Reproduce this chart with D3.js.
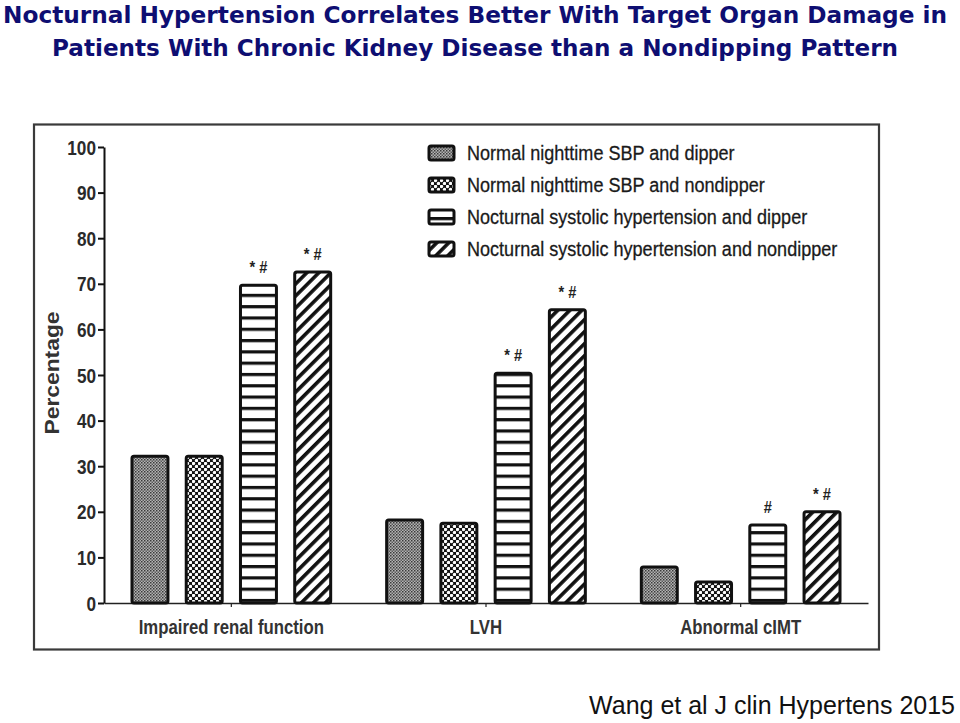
<!DOCTYPE html>
<html>
<head>
<meta charset="utf-8">
<script src="https://cdn.jsdelivr.net/npm/d3@7"></script>
<style>
  html, body { margin: 0; padding: 0; background: #fff; }
  svg { display: block; }
</style>
</head>
<body>
<svg id="chart" width="960" height="723"></svg>
<script>
// ---- DATA ----
const titleLines = [
  "Nocturnal Hypertension Correlates Better With Target Organ Damage in",
  "Patients With Chronic Kidney Disease than a Nondipping Pattern"
];
const citation = "Wang et al J clin Hypertens 2015";
const yLabel = "Percentage";
const categories = ["Impaired renal function", "LVH", "Abnormal cIMT"];
const seriesNames = [
  "Normal nighttime SBP and dipper",
  "Normal nighttime SBP and nondipper",
  "Nocturnal systolic hypertension and dipper",
  "Nocturnal systolic hypertension and nondipper"
];
const normalDipper      = [32.2, 18.2, 7.9];
const normalNondipper   = [32.2, 17.5, 4.6];
const nocturnalDipper   = [69.7, 50.4, 17.1];
const nocturnalNondipper= [72.6, 64.3, 20.0];
const annotDipper    = ["* #", "* #", "#"];
const annotNondipper = ["* #", "* #", "* #"];
const yTicks = [0, 10, 20, 30, 40, 50, 60, 70, 80, 90, 100];

const seriesValues = [normalDipper, normalNondipper, nocturnalDipper, nocturnalNondipper];
const seriesAnnots = [null, null, annotDipper, annotNondipper];

// ---- DRAW ----
const svg = d3.select("#chart");
const defs = svg.append("defs");

// pattern 0: fine gray stipple
const p0 = defs.append("pattern").attr("id", "pat0").attr("patternUnits", "userSpaceOnUse")
  .attr("width", 3).attr("height", 3);
p0.append("rect").attr("width", 3).attr("height", 3).attr("fill", "#b4b4b4");
p0.append("rect").attr("x", 0).attr("y", 0).attr("width", 1.5).attr("height", 1.5).attr("fill", "#3a3a3a");
p0.append("rect").attr("x", 1.5).attr("y", 1.5).attr("width", 1.5).attr("height", 1.5).attr("fill", "#5a5a5a");

// pattern 1: white dots on black
const p1 = defs.append("pattern").attr("id", "pat1").attr("patternUnits", "userSpaceOnUse")
  .attr("width", 6).attr("height", 6);
p1.append("rect").attr("width", 6).attr("height", 6).attr("fill", "#111");
p1.append("circle").attr("cx", 1.5).attr("cy", 1.5).attr("r", 1.7).attr("fill", "#fff");
p1.append("circle").attr("cx", 4.5).attr("cy", 4.5).attr("r", 1.7).attr("fill", "#fff");

// pattern 2: horizontal stripes
const p2 = defs.append("pattern").attr("id", "pat2").attr("patternUnits", "userSpaceOnUse")
  .attr("width", 11).attr("height", 11.3);
p2.append("rect").attr("width", 11).attr("height", 11.3).attr("fill", "#fff");
p2.append("rect").attr("x", 0).attr("y", 0).attr("width", 11).attr("height", 3.2).attr("fill", "#111");

// pattern 3: diagonal "/" stripes
const p3 = defs.append("pattern").attr("id", "pat3").attr("patternUnits", "userSpaceOnUse")
  .attr("width", 8.5).attr("height", 8.5).attr("patternTransform", "rotate(45)");
p3.append("rect").attr("width", 8.5).attr("height", 8.5).attr("fill", "#fff");
p3.append("rect").attr("x", 0).attr("y", 0).attr("width", 3.6).attr("height", 8.5).attr("fill", "#111");

const fills = ["url(#pat0)", "url(#pat1)", "url(#pat2)", "url(#pat3)"];

// Title
const titleColor = "#0e0e72";
svg.append("text").attr("x", 3).attr("y", 23)
  .attr("font-family", "DejaVu Sans, Verdana, sans-serif").attr("font-weight", "bold")
  .attr("font-size", 23).attr("fill", titleColor)
  .attr("textLength", 944).attr("lengthAdjust", "spacingAndGlyphs")
  .text(titleLines[0]);
svg.append("text").attr("x", 52).attr("y", 56)
  .attr("font-family", "DejaVu Sans, Verdana, sans-serif").attr("font-weight", "bold")
  .attr("font-size", 23).attr("fill", titleColor)
  .attr("textLength", 846).attr("lengthAdjust", "spacingAndGlyphs")
  .text(titleLines[1]);

// Frame
svg.append("rect").attr("x", 34).attr("y", 124.5).attr("width", 845).attr("height", 525)
  .attr("fill", "#fff").attr("stroke", "#3a3a3a").attr("stroke-width", 2.2);

// Scales
const y = d3.scaleLinear().domain([0, 100]).range([603, 147]);
const x0 = d3.scaleBand().domain(categories).range([104, 868]).padding(0);
const x1 = d3.scaleBand().domain(d3.range(seriesNames.length)).range([0, x0.bandwidth()])
  .paddingInner(0.337).paddingOuter(0.516);

const axisFont = "Liberation Sans, Arial, sans-serif";
const condense = 0.86;

// Y axis
const yAxis = svg.append("g").attr("transform", "translate(104,0)")
  .call(d3.axisLeft(y).tickValues(yTicks).tickSize(6).tickSizeOuter(0).tickPadding(2));
yAxis.select(".domain").attr("stroke", "#111").attr("stroke-width", 2);
yAxis.selectAll(".tick line").attr("stroke", "#111").attr("stroke-width", 2);
yAxis.selectAll(".tick text").each(function() {
  const t = d3.select(this);
  const xx = +t.attr("x");
  t.attr("x", null).attr("dy", null)
   .attr("transform", `translate(${xx},7) scale(${condense},1)`)
   .attr("font-family", axisFont).attr("font-weight", "bold")
   .attr("font-size", 20).attr("fill", "#2a2a2a");
});

// X axis
const xAxis = svg.append("g").attr("transform", "translate(0,603)")
  .call(d3.axisBottom(x0).tickSize(4).tickSizeOuter(0).tickFormat(""));
xAxis.select(".domain").attr("stroke", "#222").attr("stroke-width", 1.6);
xAxis.selectAll(".tick line").attr("stroke", "#222").attr("stroke-width", 1.2);
svg.append("g").selectAll("text").data(categories).join("text")
  .attr("transform", d => `translate(${x0(d) + x0.bandwidth() / 2},634) scale(${condense},1)`)
  .attr("text-anchor", "middle")
  .attr("font-family", axisFont).attr("font-weight", "bold").attr("font-size", 19.5)
  .attr("fill", "#333").text(d => d);

// Y label
svg.append("text")
  .attr("transform", "translate(59,373) rotate(-90)")
  .attr("text-anchor", "middle")
  .attr("font-family", axisFont).attr("font-weight", "bold").attr("font-size", 20)
  .attr("textLength", 123).attr("lengthAdjust", "spacingAndGlyphs")
  .attr("fill", "#333").text(yLabel);

// Bars
const barData = [];
seriesValues.forEach((vals, s) => {
  vals.forEach((v, c) => barData.push({ s, c, v, annot: seriesAnnots[s] ? seriesAnnots[s][c] : null }));
});
svg.append("g").selectAll("rect").data(barData).join("rect")
  .attr("x", d => x0(categories[d.c]) + x1(d.s))
  .attr("y", d => y(d.v))
  .attr("width", x1.bandwidth())
  .attr("height", d => y(0) - y(d.v))
  .attr("rx", 2)
  .attr("fill", d => fills[d.s])
  .attr("stroke", "#111").attr("stroke-width", 3);

// Annotations
svg.append("g").selectAll("text").data(barData.filter(d => d.annot)).join("text")
  .attr("transform", d => `translate(${x0(categories[d.c]) + x1(d.s) + x1.bandwidth() / 2},${y(d.v) - 12}) scale(${condense},1)`)
  .attr("text-anchor", "middle")
  .attr("font-family", axisFont).attr("font-weight", "bold").attr("font-size", 17)
  .attr("fill", "#222").text(d => d.annot);

// Legend
const legend = svg.append("g").selectAll("g").data(seriesNames).join("g")
  .attr("transform", (d, i) => `translate(428,${153 + i * 32})`);
legend.append("rect").attr("x", 1).attr("y", -7).attr("width", 25).attr("height", 14)
  .attr("rx", 2).attr("fill", (d, i) => fills[i]).attr("stroke", "#111").attr("stroke-width", 3);
legend.append("text")
  .attr("transform", `translate(39,7) scale(0.86,1)`)
  .attr("font-family", axisFont).attr("font-size", 21).attr("fill", "#1a1a1a")
  .attr("stroke", "#1a1a1a").attr("stroke-width", 0.3)
  .text(d => d);

// Citation
svg.append("text").attr("x", 955).attr("y", 714)
  .attr("text-anchor", "end")
  .attr("font-family", "Liberation Sans, Arial, sans-serif").attr("font-size", 25)
  .attr("fill", "#111")
  .text(citation);
</script>
</body>
</html>
